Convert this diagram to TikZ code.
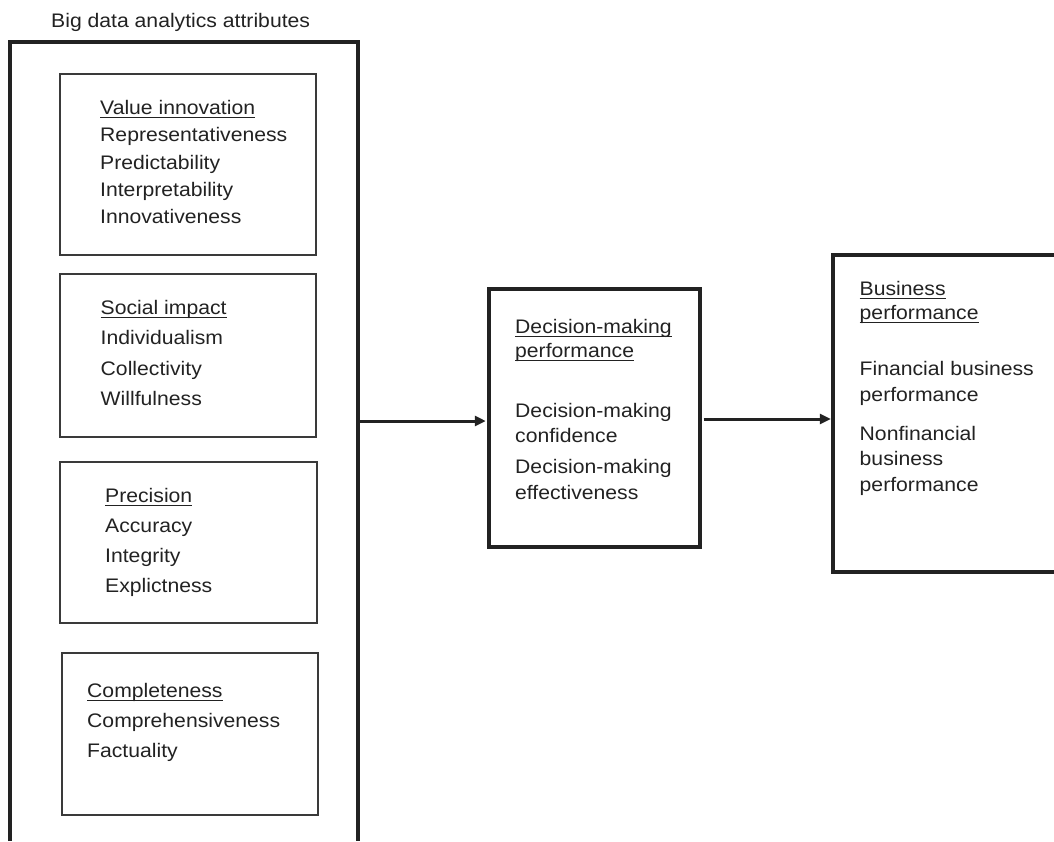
\documentclass[tikz,border=0pt]{standalone}
\usepackage{fontspec}
\setmainfont{Liberation Sans}[FakeStretch=1.08]
\usetikzlibrary{arrows.meta}
\definecolor{ink}{HTML}{222222}
\definecolor{edge}{HTML}{3A3A3A}
\begin{document}
\begin{tikzpicture}[x=1pt,y=-1pt,
  txt/.style={anchor=base west,inner sep=0pt,text=ink,font=\fontsize{19.6}{24}\selectfont},
  ul/.style={draw=ink,line width=1.3pt},
  thinbox/.style={draw=edge,line width=2pt,rectangle,inner sep=0pt},
  frame/.style={rectangle,inner sep=0pt},
  thick/.style={draw=ink,line width=3.8pt},
  arr/.style={draw=ink,line width=3pt,-{Triangle[length=11pt,width=10pt]}}]
\useasboundingbox (0,0) rectangle (1054,841);
% title
\node[txt] (title) at (51,27.5) {Big data analytics attributes};
% outer frame (open at bottom)
\node[frame,minimum width=348pt,minimum height=799pt] (outer) at (184,441.5) {};
\draw[thick,line join=miter] (outer.south west) -- (outer.north west) -- (outer.north east) -- (outer.south east);
% inner boxes
\node[thinbox,minimum width=256pt,minimum height=181pt] (b1) at (188,164.5) {};
\node[thinbox,minimum width=256.5pt,minimum height=163pt] (b2) at (187.75,355.5) {};
\node[thinbox,minimum width=257pt,minimum height=161pt] (b3) at (188,542.5) {};
\node[thinbox,minimum width=256.5pt,minimum height=162pt] (b4) at (189.75,734) {};
% box 1 text
\node[txt] (b1h) at (100,114) {Value innovation};
\draw[ul] ([yshift=-3.5pt]b1h.base west) -- ([yshift=-3.5pt]b1h.base east);
\foreach \t/\y [count=\i] in {Representativeness/141.5,Predictability/169,Interpretability/196,Innovativeness/223}
  \node[txt] (b1l\i) at (100,\y) {\t};
% box 2 text
\node[txt] (b2h) at (100.5,314) {Social impact};
\draw[ul] ([yshift=-3.5pt]b2h.base west) -- ([yshift=-3.5pt]b2h.base east);
\foreach \t/\y [count=\i] in {Individualism/344.5,Collectivity/375,Willfulness/405}
  \node[txt] (b2l\i) at (100.5,\y) {\t};
% box 3 text
\node[txt] (b3h) at (105,502) {Precision};
\draw[ul] ([yshift=-3.5pt]b3h.base west) -- ([yshift=-3.5pt]b3h.base east);
\foreach \t/\y [count=\i] in {Accuracy/532,Integrity/562,Explictness/592}
  \node[txt] (b3l\i) at (105,\y) {\t};
% box 4 text
\node[txt] (b4h) at (87,697) {Completeness};
\draw[ul] ([yshift=-3.5pt]b4h.base west) -- ([yshift=-3.5pt]b4h.base east);
\foreach \t/\y [count=\i] in {Comprehensiveness/727,Factuality/757}
  \node[txt] (b4l\i) at (87,\y) {\t};
% decision-making box
\node[rectangle,draw=ink,line width=3.5pt,inner sep=0pt,minimum width=211pt,minimum height=258pt] (dm) at (594.5,418) {};
\node[txt] (dmh1) at (515,333) {Decision-making};
\node[txt] (dmh2) at (515,357) {performance};
\draw[ul] ([yshift=-3.5pt]dmh1.base west) -- ([yshift=-3.5pt]dmh1.base east);
\draw[ul] ([yshift=-3.5pt]dmh2.base west) -- ([yshift=-3.5pt]dmh2.base east);
\foreach \t/\y [count=\i] in {Decision-making/417,confidence/442,Decision-making/473,effectiveness/499}
  \node[txt] (dml\i) at (515,\y) {\t};
% business performance box (open at right edge)
\node[frame,minimum width=221pt,minimum height=317pt] (bp) at (943.5,413.5) {};
\draw[thick,line join=miter] (bp.north east) -- (bp.north west) -- (bp.south west) -- (bp.south east);
\node[txt] (bph1) at (859.5,295) {Business};
\node[txt] (bph2) at (859.5,319) {performance};
\draw[ul] ([yshift=-3.5pt]bph1.base west) -- ([yshift=-3.5pt]bph1.base east);
\draw[ul] ([yshift=-3.5pt]bph2.base west) -- ([yshift=-3.5pt]bph2.base east);
\foreach \t/\y [count=\i] in {Financial business/375,performance/401,Nonfinancial/440,business/465,performance/491}
  \node[txt] (bpl\i) at (859.5,\y) {\t};
% connectors
\draw[arr] ([yshift=-3pt]dm.west -| outer.east) -- ([yshift=-3pt,xshift=-1.5pt]dm.west);
\draw[arr] ([yshift=-1pt,xshift=1.75pt]dm.east) -- ([yshift=-1pt,xshift=-2pt]dm.east -| bp.west);
\end{tikzpicture}
\end{document}
